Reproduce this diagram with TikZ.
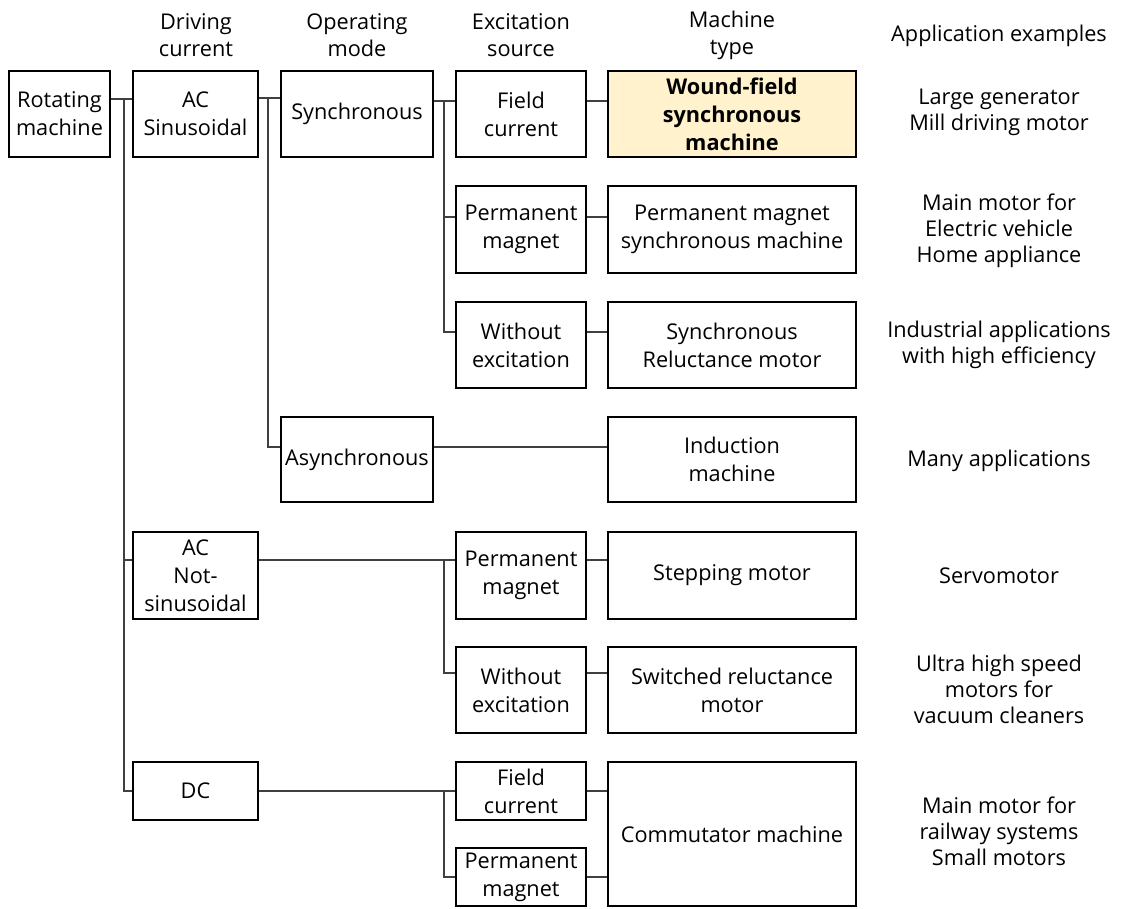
\documentclass[tikz,border=0pt]{standalone}
\usepackage{fontspec}
\setmainfont{Open Sans}
\usetikzlibrary{calc}
\definecolor{hl}{HTML}{FFF2CC}
\definecolor{cn}{HTML}{404040}
\begin{document}
\begin{tikzpicture}[x=1pt,y=-1pt,
  box/.style={draw=black, line width=2pt, align=center, inner sep=0pt, text=black,
              font=\fontsize{21.7}{28}\selectfont},
  conn/.style={draw=cn, line width=1.5pt},
  hdr/.style={align=center, inner sep=0pt, font=\fontsize{21.7}{27}\selectfont},
  app/.style={align=center, inner sep=0pt, font=\fontsize{21.7}{26}\selectfont}]
\useasboundingbox (0,0) rectangle (1121,909);

% headers
\node[hdr] (h2) at (196,35.5) {Driving\\current};
\node[hdr] (h3) at (357,35.5) {Operating\\mode};
\node[hdr] (h4) at (521,35.5) {Excitation\\source};
\node[hdr] (h5) at (732,35.5) {Machine\\type};
\node[hdr] (h6) at (999,35.5) {Application examples};

% boxes
\node[box, minimum width=101, minimum height=86] (rot) at (59.5,114) {Rotating\\machine};
\node[box, minimum width=125, minimum height=86] (drv1) at (195.5,114) {AC\\Sinusoidal};
\node[box, minimum width=152, minimum height=86] (sync) at (357,114) {Synchronous};
\node[box, minimum width=130, minimum height=86] (fc1) at (521,114) {Field\\current};
\node[box, minimum width=248, minimum height=86, fill=hl, font=\fontsize{21.7}{28}\selectfont\bfseries] (wf) at (732,114) {Wound-field\\synchronous\\machine};
\node[box, minimum width=130, minimum height=87] (pm1) at (521,229.5) {Permanent\\magnet};
\node[box, minimum width=248, minimum height=87] (pmsm) at (732,229.5) {Permanent magnet\\synchronous machine};
\node[box, minimum width=130, minimum height=86] (wo1) at (521,345) {Without\\excitation};
\node[box, minimum width=248, minimum height=86] (synrm) at (732,345) {Synchronous\\Reluctance motor};
\node[box, minimum width=152, minimum height=85] (async) at (357,459.5) {Asynchronous};
\node[box, minimum width=248, minimum height=85] (ind) at (732,459.5) {Induction\\machine};
\node[box, minimum width=125, minimum height=87] (drv2) at (195.5,575.5) {AC\\Not-\\sinusoidal};
\node[box, minimum width=130, minimum height=87] (pm2) at (521,575.5) {Permanent\\magnet};
\node[box, minimum width=248, minimum height=87] (stepm) at (732,575.5) {Stepping motor};
\node[box, minimum width=130, minimum height=86] (wo2) at (521,690) {Without\\excitation};
\node[box, minimum width=248, minimum height=86] (srm) at (732,690) {Switched reluctance\\motor};
\node[box, minimum width=125, minimum height=58] (dc) at (195.5,791) {DC};
\node[box, minimum width=130, minimum height=58] (fc2) at (521,791) {Field\\current};
\node[box, minimum width=130, minimum height=58] (pm3) at (521,877) {Permanent\\magnet};
\node[box, minimum width=248, minimum height=144] (comm) at (732,834) {Commutator machine};

% application examples
\node[app] (a1) at (999,112) {Large generator\\Mill driving motor};
\node[app] (a2) at (999,231) {Main motor for\\Electric vehicle\\Home appliance};
\node[app] (a3) at (999,345) {Industrial applications\\with high efficiency};
\node[app] (a4) at (999,461) {Many applications};
\node[app] (a5) at (999,576) {Servomotor};
\node[app] (a6) at (999,689) {Ultra high speed\\motors for\\vacuum cleaners};
\node[app] (a7) at (999,831) {Main motor for\\railway systems\\Small motors};

% junction coordinates
\coordinate (m1) at (124,99);
\coordinate (m2) at (124,560);
\coordinate (m3) at (124,791);
\coordinate (o1) at (268,98);
\coordinate (o2) at (268,447);
\coordinate (e1) at (444,101);
\coordinate (e2) at (444,217);
\coordinate (e3) at (444,332);
\coordinate (e4) at (444,560);
\coordinate (e5) at (444,673);
\coordinate (e6) at (444,791);
\coordinate (e7) at (444,877);

% connectors
\draw[conn] (rot.east|-m1) -- (drv1.west|-m1);
\draw[conn] (m1) -- (m3) -- (dc.west|-m3);
\draw[conn] (m2) -- (drv2.west|-m2);

\draw[conn] (drv1.east|-o1) -- (sync.west|-o1);
\draw[conn] (o1) -- (o2) -- (async.west|-o2);
\draw[conn] (async.east|-o2) -- (ind.west|-o2);

\draw[conn] (sync.east|-e1) -- (fc1.west|-e1);
\draw[conn] (e1) -- (e3) -- (wo1.west|-e3);
\draw[conn] (e2) -- (pm1.west|-e2);
\draw[conn] (fc1.east|-e1) -- (wf.west|-e1);
\draw[conn] (pm1.east|-e2) -- (pmsm.west|-e2);
\draw[conn] (wo1.east|-e3) -- (synrm.west|-e3);

\draw[conn] (drv2.east|-e4) -- (pm2.west|-e4);
\draw[conn] (e4) -- (e5) -- (wo2.west|-e5);
\draw[conn] (pm2.east|-e4) -- (stepm.west|-e4);
\draw[conn] (wo2.east|-e5) -- (srm.west|-e5);

\draw[conn] (dc.east|-e6) -- (fc2.west|-e6);
\draw[conn] (e6) -- (e7) -- (pm3.west|-e7);
\draw[conn] (fc2.east|-e6) -- (comm.west|-e6);
\draw[conn] (pm3.east|-e7) -- (comm.west|-e7);
\end{tikzpicture}
\end{document}
